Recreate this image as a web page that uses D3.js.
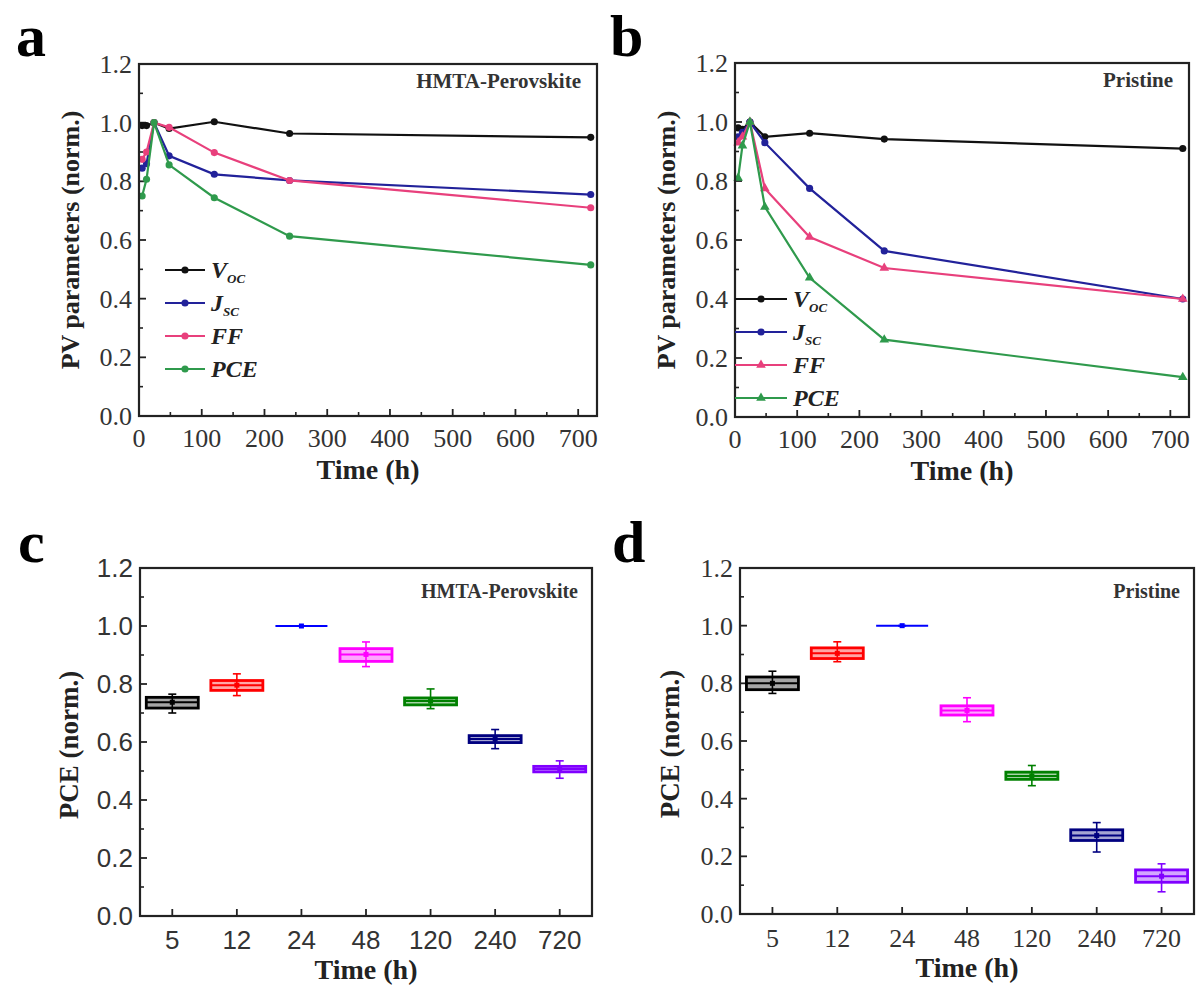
<!DOCTYPE html>
<html>
<head>
<meta charset="utf-8">
<script src="https://cdn.jsdelivr.net/npm/d3@7"></script>
<style>
  body { margin: 0; background: #fff; }
  svg { display: block; }
  .serif { font-family: "Liberation Serif", "Times New Roman", serif; }
  .sans { font-family: "Liberation Sans", Arial, sans-serif; }
</style>
</head>
<body>
<svg id="fig" width="1200" height="995"></svg>
<script>
// aging time points (h)
const times = [5, 12, 24, 48, 120, 240, 720];
const timeLabels = ["5", "12", "24", "48", "120", "240", "720"];

// panel a: HMTA-Perovskite, normalized PV parameters
const hmtaVoc = [0.99, 0.99, 1.0, 0.98, 1.003, 0.963, 0.95];
const hmtaJsc = [0.845, 0.86, 1.0, 0.887, 0.824, 0.803, 0.755];
const hmtaFF  = [0.875, 0.90, 1.0, 0.984, 0.898, 0.803, 0.71];
const hmtaPCE = [0.75, 0.807, 1.0, 0.856, 0.744, 0.613, 0.515];

// panel b: Pristine
const priVoc = [0.98, 0.975, 1.0, 0.95, 0.962, 0.942, 0.91];
const priJsc = [0.95, 0.965, 1.0, 0.93, 0.775, 0.563, 0.40];
const priFF  = [0.93, 0.95, 1.0, 0.775, 0.61, 0.505, 0.40];
const priPCE = [0.81, 0.92, 1.0, 0.712, 0.472, 0.262, 0.135];

// panel c: HMTA box stats (whisker low, q1, median, q3, whisker high)
const hmtaMin = [0.70, 0.76, 1.0, 0.86, 0.715, 0.577, 0.475];
const hmtaQ1  = [0.717, 0.778, 1.0, 0.878, 0.728, 0.598, 0.497];
const hmtaMed = [0.737, 0.796, 1.0, 0.902, 0.741, 0.61, 0.507];
const hmtaQ3  = [0.754, 0.812, 1.0, 0.922, 0.752, 0.622, 0.516];
const hmtaMax = [0.765, 0.835, 1.0, 0.945, 0.783, 0.643, 0.535];

// panel d: Pristine box stats
const priMin = [0.765, 0.875, 1.0, 0.667, 0.445, 0.215, 0.077];
const priQ1  = [0.778, 0.886, 1.0, 0.69, 0.467, 0.255, 0.11];
const priMed = [0.80, 0.904, 1.0, 0.706, 0.479, 0.272, 0.131];
const priQ3  = [0.822, 0.923, 1.0, 0.722, 0.492, 0.292, 0.153];
const priMax = [0.842, 0.944, 1.0, 0.75, 0.515, 0.317, 0.174];

const boxColors = ["#000000", "#ff0000", "#0000ff", "#ff00ff", "#008000", "#000080", "#8000ff"];
const seriesColors = { voc: "#111111", jsc: "#22229a", ff: "#e8407c", pce: "#2f9a4c" };

const svg = d3.select("#fig");

function panelLetter(txt, x, y) {
  svg.append("text").attr("class", "serif")
    .attr("x", x).attr("y", y)
    .style("font-size", "60px").style("font-weight", "bold")
    .text(txt);
}

function frame(g, w, h) {
  g.append("rect").attr("width", w).attr("height", h)
    .attr("fill", "none").attr("stroke", "#222").attr("stroke-width", 2.2);
}

function yAxisInward(g, y, labelClass) {
  // minor ticks
  g.selectAll(".yminor").data(d3.range(0.1, 1.2, 0.2)).join("line")
    .attr("x1", 0).attr("x2", 4)
    .attr("y1", d => y(d)).attr("y2", d => y(d))
    .attr("stroke", "#222").attr("stroke-width", 1.6);
  const major = [0, 0.2, 0.4, 0.6, 0.8, 1.0, 1.2];
  g.selectAll(".ymajor").data(major).join("line")
    .attr("x1", 0).attr("x2", 7)
    .attr("y1", d => y(d)).attr("y2", d => y(d))
    .attr("stroke", "#222").attr("stroke-width", 1.8);
  g.selectAll(".ylab").data(major).join("text")
    .attr("class", labelClass)
    .attr("x", -7).attr("y", d => y(d)).attr("dy", "0.35em")
    .attr("text-anchor", "end")
    .style("font-size", "26px").style("fill", "#333")
    .text(d => d.toFixed(1));
}

function drawLinePanel(cfg) {
  const w = cfg.right - cfg.left, h = cfg.bottom - cfg.top;
  const g = svg.append("g").attr("transform", `translate(${cfg.left},${cfg.top})`);
  const x = d3.scaleLinear().domain([0, 730]).range([0, w]);
  const y = d3.scaleLinear().domain([0, 1.2]).range([h, 0]);

  yAxisInward(g, y, "serif");

  g.selectAll(".xminor").data(d3.range(50, 730, 100)).join("line")
    .attr("x1", d => x(d)).attr("x2", d => x(d))
    .attr("y1", h).attr("y2", h - 4)
    .attr("stroke", "#222").attr("stroke-width", 1.6);
  const xt = d3.range(0, 701, 100);
  g.selectAll(".xmajor").data(xt).join("line")
    .attr("x1", d => x(d)).attr("x2", d => x(d))
    .attr("y1", h).attr("y2", h - 7)
    .attr("stroke", "#222").attr("stroke-width", 1.8);
  g.selectAll(".xlab").data(xt).join("text")
    .attr("class", "serif")
    .attr("x", d => x(d)).attr("y", h + 31)
    .attr("text-anchor", "middle")
    .style("font-size", "26px").style("fill", "#333")
    .text(d => d);

  const line = d3.line().x(d => x(d[0])).y(d => y(d[1]));
  cfg.series.forEach(s => {
    const pts = times.map((t, i) => [t, s.values[i]]);
    g.append("path").datum(pts).attr("d", line)
      .attr("fill", "none").attr("stroke", s.color).attr("stroke-width", 2.2);
    g.selectAll(null).data(pts).join("path")
      .attr("transform", d => `translate(${x(d[0])},${y(d[1])})`)
      .attr("d", d3.symbol().type(s.symbol).size(40))
      .attr("fill", s.color);
  });

  frame(g, w, h);

  // legend
  cfg.series.forEach((s, i) => {
    const ly = cfg.legend.y + i * cfg.legend.dy;
    g.append("line")
      .attr("x1", cfg.legend.x).attr("x2", cfg.legend.x + cfg.legend.len)
      .attr("y1", ly).attr("y2", ly)
      .attr("stroke", s.color).attr("stroke-width", 2.2);
    g.append("path")
      .attr("transform", `translate(${cfg.legend.x + cfg.legend.len / 2},${ly})`)
      .attr("d", d3.symbol().type(s.symbol).size(40))
      .attr("fill", s.color);
    const t = g.append("text").attr("class", "serif")
      .attr("x", cfg.legend.x + cfg.legend.len + 6).attr("y", ly + 8)
      .style("font-size", "24px").style("font-style", "italic").style("font-weight", "bold")
      .style("fill", "#222");
    t.append("tspan").text(s.name);
    if (s.sub) t.append("tspan").attr("dy", 5).style("font-size", "13px").text(s.sub);
  });

  g.append("text").attr("class", "serif")
    .attr("x", w - 16).attr("y", 24)
    .attr("text-anchor", "end")
    .style("font-size", "21px").style("font-weight", "bold").style("fill", "#333")
    .text(cfg.title);

  g.append("text").attr("class", "serif")
    .attr("x", w / 2).attr("y", h + 63)
    .attr("text-anchor", "middle")
    .style("font-size", "28px").style("font-weight", "bold").style("fill", "#222")
    .text("Time (h)");

  g.append("text").attr("class", "serif")
    .attr("transform", `translate(${cfg.ylabX - cfg.left},${h / 2}) rotate(-90)`)
    .attr("text-anchor", "middle").attr("dy", "0.35em")
    .style("font-size", "26px").style("font-weight", "bold").style("fill", "#222")
    .text("PV parameters (norm.)");
}

function drawBoxPanel(cfg) {
  const w = cfg.right - cfg.left, h = cfg.bottom - cfg.top;
  const g = svg.append("g").attr("transform", `translate(${cfg.left},${cfg.top})`);
  const x = d3.scaleBand().domain(timeLabels).range([0, w]);
  const y = d3.scaleLinear().domain([0, 1.2]).range([h, 0]);

  yAxisInward(g, y, cfg.tickClass);

  g.selectAll(".xtick").data(timeLabels).join("line")
    .attr("x1", d => x(d) + x.bandwidth() / 2).attr("x2", d => x(d) + x.bandwidth() / 2)
    .attr("y1", h).attr("y2", h - 7)
    .attr("stroke", "#222").attr("stroke-width", 1.8);
  g.selectAll(".xlab").data(timeLabels).join("text")
    .attr("class", cfg.tickClass)
    .attr("x", d => x(d) + x.bandwidth() / 2).attr("y", h + 33)
    .attr("text-anchor", "middle")
    .style("font-size", "26px").style("fill", "#333")
    .text(d => d);

  const stats = timeLabels.map((lab, i) => ({
    lab, c: boxColors[i],
    lo: cfg.min[i], q1: cfg.q1[i], med: cfg.med[i], q3: cfg.q3[i], hi: cfg.max[i]
  }));
  const bw = 52;
  const boxes = g.selectAll(".box").data(stats).join("g")
    .attr("transform", d => `translate(${x(d.lab) + x.bandwidth() / 2},0)`);
  boxes.append("line")
    .attr("y1", d => y(d.lo)).attr("y2", d => y(d.hi))
    .attr("stroke", d => d.c).attr("stroke-width", 1.6);
  boxes.append("line")
    .attr("x1", -4).attr("x2", 4)
    .attr("y1", d => y(d.lo)).attr("y2", d => y(d.lo))
    .attr("stroke", d => d.c).attr("stroke-width", 1.6);
  boxes.append("line")
    .attr("x1", -4).attr("x2", 4)
    .attr("y1", d => y(d.hi)).attr("y2", d => y(d.hi))
    .attr("stroke", d => d.c).attr("stroke-width", 1.6);
  boxes.append("rect")
    .attr("x", -bw / 2).attr("width", bw)
    .attr("y", d => y(d.q3)).attr("height", d => Math.max(0, y(d.q1) - y(d.q3)))
    .attr("fill", d => d.c).attr("fill-opacity", 0.35)
    .attr("stroke", d => d.c).attr("stroke-width", 2.8);
  boxes.append("line")
    .attr("x1", -bw / 2).attr("x2", bw / 2)
    .attr("y1", d => y(d.med)).attr("y2", d => y(d.med))
    .attr("stroke", d => d.c).attr("stroke-width", 2);
  boxes.append("rect")
    .attr("x", -2.5).attr("width", 5)
    .attr("y", d => y(d.med) - 2.5).attr("height", 5)
    .attr("fill", d => d.c);

  frame(g, w, h);

  g.append("text").attr("class", "serif")
    .attr("x", w - 14).attr("y", 30)
    .attr("text-anchor", "end")
    .style("font-size", "20px").style("font-weight", "bold").style("fill", "#333")
    .text(cfg.title);

  g.append("text").attr("class", "serif")
    .attr("x", w / 2).attr("y", h + 63)
    .attr("text-anchor", "middle")
    .style("font-size", "28px").style("font-weight", "bold").style("fill", "#222")
    .text("Time (h)");

  g.append("text").attr("class", "serif")
    .attr("transform", `translate(${cfg.ylabX - cfg.left},${h / 2 + 3}) rotate(-90)`)
    .attr("text-anchor", "middle").attr("dy", "0.35em")
    .style("font-size", "27px").style("font-weight", "bold").style("fill", "#222")
    .text("PCE (norm.)");
}

drawLinePanel({
  left: 139, right: 597, top: 64, bottom: 416, ylabX: 70,
  title: "HMTA-Perovskite",
  legend: { x: 26, len: 40, y: 206, dy: 33 },
  series: [
    { name: "V", sub: "OC", values: hmtaVoc, color: seriesColors.voc, symbol: d3.symbolCircle },
    { name: "J", sub: "SC", values: hmtaJsc, color: seriesColors.jsc, symbol: d3.symbolCircle },
    { name: "FF", values: hmtaFF, color: seriesColors.ff, symbol: d3.symbolCircle },
    { name: "PCE", values: hmtaPCE, color: seriesColors.pce, symbol: d3.symbolCircle }
  ]
});

drawLinePanel({
  left: 735, right: 1189, top: 63, bottom: 417, ylabX: 666,
  title: "Pristine",
  legend: { x: 0, len: 52, y: 236, dy: 33 },
  series: [
    { name: "V", sub: "OC", values: priVoc, color: seriesColors.voc, symbol: d3.symbolCircle },
    { name: "J", sub: "SC", values: priJsc, color: seriesColors.jsc, symbol: d3.symbolCircle },
    { name: "FF", values: priFF, color: seriesColors.ff, symbol: d3.symbolTriangle },
    { name: "PCE", values: priPCE, color: seriesColors.pce, symbol: d3.symbolTriangle }
  ]
});

drawBoxPanel({
  left: 140, right: 592, top: 568, bottom: 916, ylabX: 69,
  title: "HMTA-Perovskite", tickClass: "sans",
  min: hmtaMin, q1: hmtaQ1, med: hmtaMed, q3: hmtaQ3, max: hmtaMax
});

drawBoxPanel({
  left: 740, right: 1194, top: 568, bottom: 914, ylabX: 670,
  title: "Pristine", tickClass: "serif",
  min: priMin, q1: priQ1, med: priMed, q3: priQ3, max: priMax
});

panelLetter("a", 16, 56);
panelLetter("b", 610, 56);
panelLetter("c", 18, 562);
panelLetter("d", 612, 562);
</script>
</body>
</html>
